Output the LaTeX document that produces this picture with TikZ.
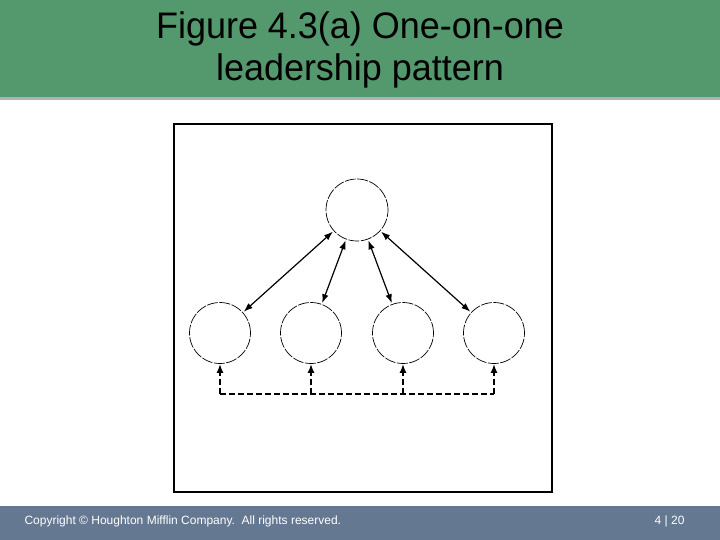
\documentclass[tikz,border=0pt]{standalone}
\usepackage{fontspec}
\setmainfont{Liberation Sans}
\usetikzlibrary{arrows.meta}
\definecolor{titlegreen}{RGB}{84,153,110}
\definecolor{footblue}{RGB}{100,120,145}
\tikzset{
  person/.style={circle, draw, line width=0.7pt, dash pattern=on 11pt off 1.5pt, minimum size=61pt, inner sep=0pt},
  leader/.style={person, minimum size=62pt},
  biarrow/.style={{Latex[length=9pt,width=6.5pt]}-{Latex[length=9pt,width=6.5pt]}, line width=1.2pt, shorten <=1pt, shorten >=1pt},
  peer/.style={-{Latex[length=9pt,width=7pt]}, line width=1.8pt, dash pattern=on 6pt off 3pt},
  peerline/.style={line width=1.8pt, dash pattern=on 6pt off 3pt}
}
\begin{document}
\begin{tikzpicture}[x=1pt,y=-1pt]
\useasboundingbox (0,0) rectangle (720,540);
\fill[white] (0,0) rectangle (720,540);
% title band
\fill[gray!60] (0,97) rectangle (720,100);
\fill[titlegreen] (0,0) rectangle (720,97);
\node[font=\fontsize{33}{37.5}\selectfont, align=center, xscale=1.09, yscale=1.12] (title) at (360,50) {Figure 4.3(a) One-on-one\\leadership pattern};
% frame
\draw[line width=1.5pt] (174,124) rectangle (552,492);
% circles
\node[leader] (top) at (357,210) {};
\node[person] (b1) at (220,333) {};
\node[person] (b2) at (311,333) {};
\node[person] (b3) at (403,333) {};
\node[person] (b4) at (494,333) {};
% two-way arrows
\draw[biarrow] (top) -- (b1);
\draw[biarrow] (top) -- (b2);
\draw[biarrow] (top) -- (b3);
\draw[biarrow] (top) -- (b4);
% dashed peer links
\coordinate (d1) at (220,394);
\coordinate (d2) at (311,394);
\coordinate (d3) at (403,394);
\coordinate (d4) at (494,394);
\draw[peerline] (d1) -- (d4);
\draw[peer] (d1) -- (b1.south);
\draw[peer] (d2) -- (b2.south);
\draw[peer] (d3) -- (b3.south);
\draw[peer] (d4) -- (b4.south);
% footer
\fill[footblue] (0,506) rectangle (720,540);
\node[font=\fontsize{12}{14}\selectfont, text=white, anchor=west] (copy) at (21,521) {Copyright © Houghton Mifflin Company.\ \ All rights reserved.};
\node[font=\fontsize{12}{14}\selectfont, text=white, anchor=east] (page) at (688,521) {4 | 20};
\end{tikzpicture}
\end{document}
